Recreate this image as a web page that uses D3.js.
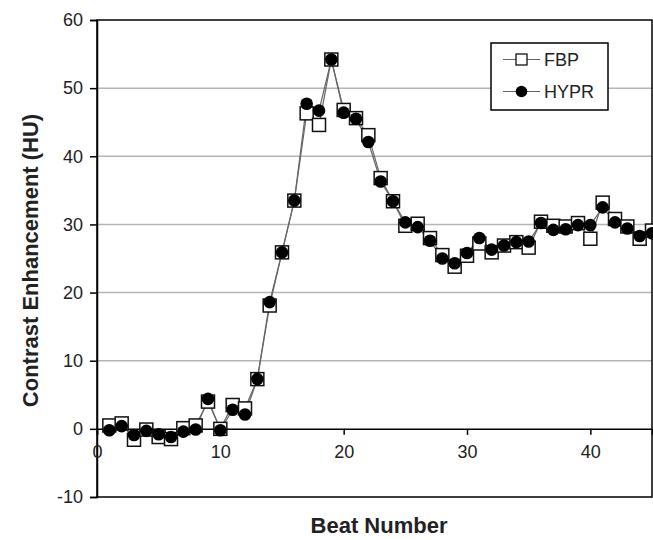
<!DOCTYPE html>
<html><head><meta charset="utf-8">
<script src="https://cdn.jsdelivr.net/npm/d3@7/dist/d3.min.js"></script>
<style>body{margin:0;background:#fff}svg{display:block}</style>
</head><body><svg id="c" width="653" height="540"></svg>
<script>
const beats = [1,2,3,4,5,6,7,8,9,10,11,12,13,14,15,16,17,18,19,20,21,22,23,24,25,26,27,28,29,30,31,32,33,34,35,36,37,38,39,40,41,42,43,44,45];
const fbp = [0.5,0.8,-1.6,-0.1,-1.2,-1.5,0.1,0.5,4.0,0.0,3.5,3.0,7.3,18.1,25.9,33.5,46.3,44.6,54.2,46.8,45.6,43.1,36.8,33.4,29.8,30.1,28.0,25.5,23.8,25.4,27.2,25.9,26.9,27.4,26.6,30.4,29.8,29.7,30.2,27.9,33.2,30.8,29.7,27.9,29.1];
const hypr = [-0.2,0.4,-0.9,-0.3,-0.8,-1.2,-0.4,-0.1,4.4,-0.2,2.8,2.1,7.3,18.6,25.9,33.5,47.7,46.7,54.2,46.4,45.5,42.1,36.3,33.4,30.3,29.6,27.6,25.0,24.3,25.8,28.0,26.3,26.9,27.4,27.5,30.2,29.2,29.3,29.9,29.9,32.5,30.3,29.4,28.3,28.7];
const yTicks = [-10,0,10,20,30,40,50,60];
const xTicks = [0,10,20,30,40];
const gridVals = [10,20,30,40,50];
const seriesNames = ["FBP","HYPR"];

const svg = d3.select("#c");
const font = "Arial, 'Liberation Sans', sans-serif";
const L = 97, R = 652, T = 20, B = 497;
const x = d3.scaleLinear().domain([0,45]).range([L,R]);
const y = d3.scaleLinear().domain([-10,60]).range([B,T]);

// gridlines
svg.append("g").selectAll("line").data(gridVals).join("line")
  .attr("x1",L).attr("x2",R).attr("y1",d=>y(d)).attr("y2",d=>y(d))
  .attr("stroke","#b4b4b4").attr("stroke-width",1.5);

// frame
svg.append("rect").attr("x",L).attr("y",T).attr("width",R-L).attr("height",B-T)
  .attr("fill","none").attr("stroke","#000").attr("stroke-width",1.5);

// y axis
const yAxis = svg.append("g").attr("transform",`translate(${L},0)`)
  .call(d3.axisLeft(y).tickValues(yTicks).tickSize(7).tickPadding(7).tickFormat(d=>String(d)));
yAxis.select(".domain").attr("stroke","#000").attr("stroke-width",1.5);
yAxis.selectAll(".tick line").attr("stroke","#000").attr("stroke-width",1.5);
yAxis.selectAll("text").attr("font-family",font).attr("font-size",18).attr("fill","#222");

// x axis along zero line
const xAxis = svg.append("g").attr("transform",`translate(0,${y(0)})`)
  .call(d3.axisBottom(x).tickValues(xTicks).tickSize(6).tickPadding(10).tickFormat(d=>String(d)));
xAxis.select(".domain").attr("stroke","#000").attr("stroke-width",1.5);
xAxis.selectAll(".tick line").attr("stroke","#000").attr("stroke-width",1.5);
xAxis.selectAll("text").attr("font-family",font).attr("font-size",18).attr("fill","#222");

// axis titles
svg.append("text").attr("x",379).attr("y",533).attr("text-anchor","middle")
  .attr("font-family",font).attr("font-weight","bold").attr("font-size",22).attr("fill","#222").text("Beat Number");
svg.append("text").attr("transform",`translate(38,${(T+B)/2 + 2})rotate(-90)`).attr("text-anchor","middle")
  .attr("font-family",font).attr("font-weight","bold").attr("font-size",22).attr("fill","#222").text("Contrast Enhancement (HU)");

const line = d3.line().x((d,i)=>x(beats[i])).y(d=>y(d));
svg.append("path").datum(fbp).attr("d",line).attr("fill","none").attr("stroke","#666").attr("stroke-width",1.2);
svg.append("path").datum(hypr).attr("d",line).attr("fill","none").attr("stroke","#666").attr("stroke-width",1.2);

const S = 13;
svg.append("g").selectAll("rect").data(fbp).join("rect")
  .attr("x",(d,i)=>x(beats[i])-S/2).attr("y",d=>y(d)-S/2).attr("width",S).attr("height",S)
  .attr("fill","#fff").attr("stroke","#111").attr("stroke-width",1.5);
svg.append("g").selectAll("circle").data(hypr).join("circle")
  .attr("cx",(d,i)=>x(beats[i])).attr("cy",d=>y(d)).attr("r",6.3).attr("fill","#000");

// legend
const lg = svg.append("g");
lg.append("rect").attr("x",491).attr("y",43).attr("width",117).attr("height",67)
  .attr("fill","#fff").attr("stroke","#000").attr("stroke-width",1.5);
const ly = [59.5,91.5];
ly.forEach((yy,k)=>{
  lg.append("line").attr("x1",503).attr("x2",540).attr("y1",yy).attr("y2",yy).attr("stroke","#666").attr("stroke-width",1.2);
  if(k===0){
    lg.append("rect").attr("x",516).attr("y",yy-5.5).attr("width",11).attr("height",11).attr("fill","#fff").attr("stroke","#111").attr("stroke-width",1.3);
  } else {
    lg.append("circle").attr("cx",521.5).attr("cy",yy).attr("r",5.8).attr("fill","#000");
  }
  lg.append("text").attr("x",544).attr("y",yy+6.5).attr("font-family",font).attr("font-size",18).attr("fill","#222").text(seriesNames[k]);
});
</script>
</body></html>
